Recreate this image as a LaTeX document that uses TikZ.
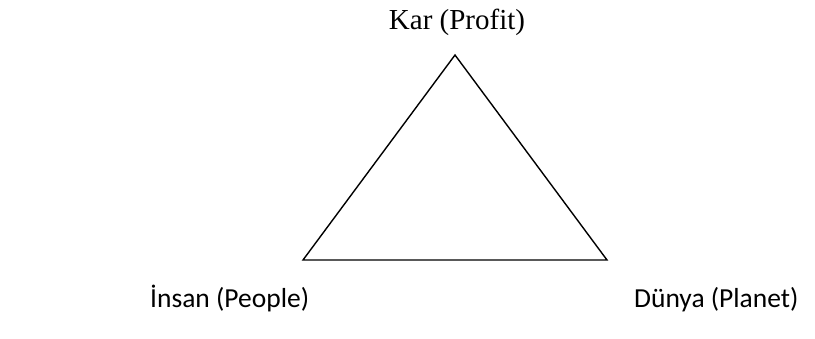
\documentclass[tikz,border=0pt]{standalone}
\usepackage{fontspec}
\setmainfont{Liberation Serif}
\newfontfamily\lblsans{Carlito}
\begin{document}
\begin{tikzpicture}[x=1pt,y=-1pt,
  serlbl/.style={inner sep=0pt, font=\fontsize{29}{31}\selectfont},
  sanslbl/.style={inner sep=0pt, font=\lblsans\fontsize{27.5}{30}\selectfont},
  edge/.style={line width=1.4pt, line join=miter}]
\useasboundingbox (0,0) rectangle (815,338);
\coordinate (top) at (455,55);
\coordinate (bl) at (303,260);
\coordinate (br) at (607,260);
\draw[edge] (top) -- (bl) -- (br) -- cycle;
\node[serlbl, anchor=base] (kar) at (457,29) {Kar (Profit)};
\node[sanslbl, anchor=base west] (insan) at (150,307) {İnsan (People)};
\node[sanslbl, anchor=base west] (dunya) at (634,307) {Dünya (Planet)};
\end{tikzpicture}
\end{document}
